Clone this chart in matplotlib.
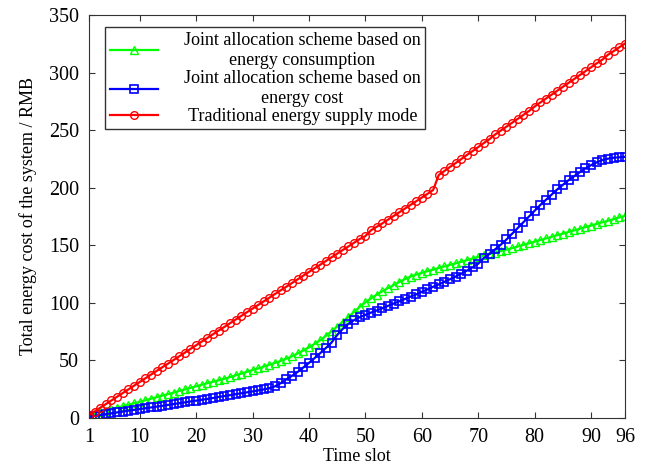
import matplotlib
matplotlib.use("Agg")
import matplotlib.pyplot as plt

plt.rcParams['font.family'] = ['Liberation Serif', 'DejaVu Serif']

slots = list(range(1, 97))

consumption = [
    2, 3.5, 4.8, 6.2, 7.5, 8.8, 10.1, 11.4, 12.7, 14,
    15.3, 16.7, 18, 19.4, 20.7, 22, 23.4, 24.7, 26.1, 27.5,
    28.8, 30.1, 31.4, 32.7, 34, 35.5, 37, 38.5, 40, 41.5,
    43, 44.6, 46.2, 47.8, 49.5, 51.5, 53.5, 56, 58.5, 61.3,
    64.3, 67.5, 71.3, 75.2, 79.3, 83.5, 87.8, 92, 96.5, 100.3,
    103.8, 107, 110, 112.8, 115.4, 118, 120.5, 122.8, 124.5, 126,
    127.5, 128.8, 130.2, 131.6, 133, 134.3, 135.6, 137, 138.4, 139.8,
    141.2, 142.4, 143.6, 144.9, 146.2, 147.5, 148.9, 150.3, 151.7, 153.1,
    154.5, 155.9, 157.3, 158.7, 160.1, 161.5, 162.9, 164.3, 165.7, 167.1,
    168.5, 169.9, 171.3, 172.7, 174.1, 175.5,
]

cost = [
    1, 1.8, 2.5, 3.3, 4, 4.8, 5.5, 6.3, 7, 7.7,
    8.4, 9.1, 9.8, 10.5, 11.3, 12, 12.8, 13.5, 14.3, 15,
    15.8, 16.5, 17.3, 18.2, 19, 19.8, 20.6, 21.4, 22.2, 23,
    23.9, 24.8, 25.8, 27.5, 30.2, 33.5, 36.6, 40, 43.8, 47.8,
    52, 56.3, 60.8, 65.5, 72, 77.5, 81.8, 85, 87.5, 89.5,
    91.5, 93.3, 95.3, 97.3, 99.3, 101.3, 103.3, 105.3, 107.3, 109.5,
    111.7, 113.9, 116, 118.2, 120.5, 122.8, 125.3, 128, 130.8, 134,
    139, 142.5, 146.5, 150.5, 155, 160, 165, 170, 175, 180,
    185, 189.5, 194, 198.5, 202.5, 206.5, 210, 213.5, 216.8, 219.6,
    222, 224, 225.2, 226, 226.4, 226.8,
]

traditional = [
    2.5, 5.5, 8.8, 12, 15.2, 18.4, 21.6, 24.8, 28, 31.2,
    34.4, 37.6, 40.8, 44, 47.1, 50.3, 53.5, 56.7, 59.9, 63.1,
    66.3, 69.5, 72.7, 75.9, 79, 82.2, 85.4, 88.6, 91.8, 95,
    98.1, 101.3, 104.5, 107.7, 110.9, 114, 117.2, 120.4, 123.6, 126.8,
    130, 133.1, 136.3, 139.5, 142.7, 145.9, 149, 152.2, 155.4, 158,
    163, 166, 169, 172.2, 175.4, 178.6, 181.8, 185, 188.2, 191.4,
    194.6, 198, 211, 214.5, 218, 221.4, 224.9, 228.4, 231.8, 235.3,
    238.8, 242.2, 246.2, 249.6, 253, 256.4, 259.8, 263.2, 266.6, 270.5,
    274, 277.4, 280.8, 284.2, 287.6, 291, 294.4, 297.8, 301.2, 304.6,
    308, 311.2, 315.5, 318.6, 322, 325.2,
]

labels = [
    "Joint allocation scheme based on\nenergy consumption",
    "Joint allocation scheme based on\nenergy cost",
    " Traditional energy supply mode",
]

xticks = [1, 10, 20, 30, 40, 50, 60, 70, 80, 90, 96]
yticks = [0, 50, 100, 150, 200, 250, 300, 350]

fig = plt.figure(figsize=(6.49, 4.68), dpi=100)
ax = fig.add_axes([0.137, 0.107, 0.826, 0.861])

ax.plot(slots, consumption, '-^', color='#00ff00', lw=1.6, ms=5.5,
        mfc='none', mew=1.0, label=labels[0])
ax.plot(slots, cost, '-s', color='#0000ff', lw=1.6, ms=5.5,
        mfc='none', mew=1.2, label=labels[1])
ax.plot(slots, traditional, '-o', color='#ff0000', lw=1.6, ms=5.5,
        mfc='none', mew=1.0, label=labels[2])

ax.set_xlim(1, 96)
ax.set_ylim(0, 350)
ax.set_xticks(xticks)
ax.set_yticks(yticks)
ax.tick_params(direction='in', top=True, right=True, length=4,
               labelsize=14.5, color='#333333')
ax.tick_params(axis='x', pad=7)
ax.tick_params(axis='y', pad=7)
for s in ax.spines.values():
    s.set_color('#333333')

ax.set_xlabel("Time slot", fontsize=13, labelpad=1)
ax.set_ylabel("Total energy cost of the system / RMB", fontsize=13, labelpad=9)

leg = ax.legend(loc='upper left', bbox_to_anchor=(0.03, 0.97), fontsize=13,
                frameon=True, fancybox=False, edgecolor='black',
                handlelength=2.7, borderpad=0.25, labelspacing=0.05,
                handletextpad=1.4, borderaxespad=0)
leg.get_frame().set_linewidth(1.0)
for t in leg.get_texts():
    t.set_multialignment('center')
    t.set_linespacing(1.25)

fig.savefig("out.png", dpi=100)
